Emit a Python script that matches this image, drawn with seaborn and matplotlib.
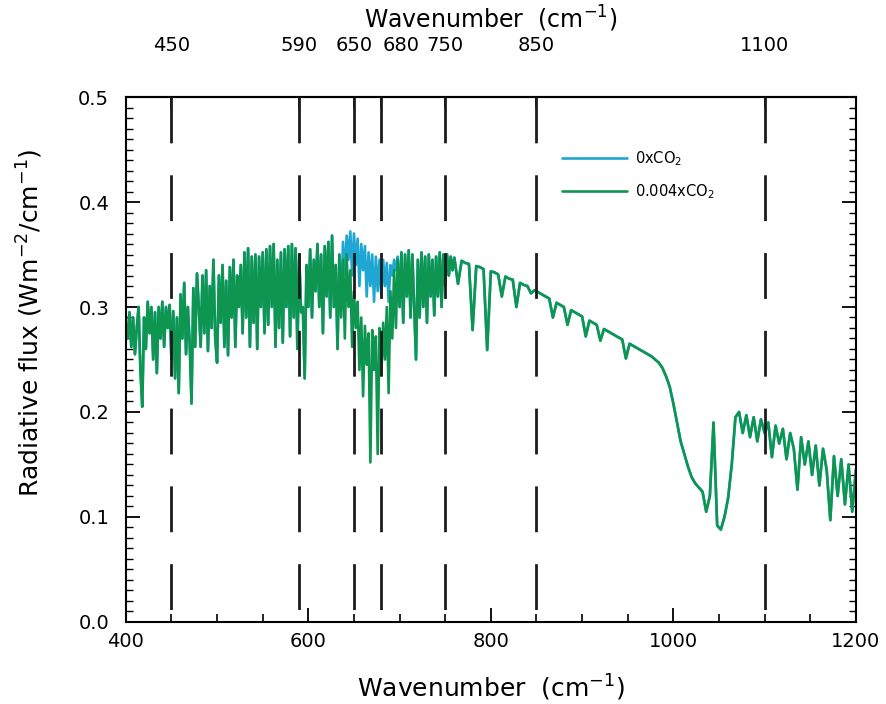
import numpy as np
import pandas as pd
import matplotlib
matplotlib.use("Agg")
import matplotlib.pyplot as plt
from matplotlib.ticker import MultipleLocator, NullLocator, FormatStrFormatter
import seaborn as sns

# Spectral grid (cm^-1): 2 cm^-1 spacing over the line-rich region, 4 cm^-1 beyond
wn_fine = np.arange(400, 760, 2)
wn_coarse = np.arange(760, 1201, 4)

# Outgoing radiative flux for the 0.004xCO2 case, 400-758 cm^-1
flux_fine = [
    0.285, 0.270, 0.295, 0.262, 0.290, 0.255, 0.280, 0.300, 0.240, 0.205,   # 400-418
    0.290, 0.260, 0.305, 0.275, 0.300, 0.250, 0.295, 0.237, 0.300, 0.270,   # 420-438
    0.305, 0.262, 0.300, 0.280, 0.302, 0.250, 0.296, 0.232, 0.290, 0.218,   # 440-458
    0.312, 0.270, 0.323, 0.255, 0.300, 0.265, 0.208, 0.318, 0.262, 0.332,   # 460-478
    0.300, 0.262, 0.330, 0.275, 0.335, 0.258, 0.320, 0.280, 0.345, 0.270,   # 480-498
    0.247, 0.330, 0.285, 0.340, 0.262, 0.325, 0.254, 0.338, 0.290, 0.345,   # 500-518
    0.262, 0.330, 0.300, 0.340, 0.275, 0.352, 0.290, 0.356, 0.262, 0.348,   # 520-538
    0.285, 0.350, 0.260, 0.348, 0.300, 0.352, 0.275, 0.355, 0.283, 0.358,   # 540-558
    0.300, 0.360, 0.262, 0.345, 0.280, 0.352, 0.266, 0.355, 0.300, 0.358,   # 560-578
    0.272, 0.360, 0.290, 0.356, 0.260, 0.350, 0.295, 0.300, 0.232, 0.340,   # 580-598
    0.300, 0.355, 0.290, 0.345, 0.315, 0.360, 0.300, 0.350, 0.275, 0.358,   # 600-618
    0.310, 0.362, 0.290, 0.368, 0.300, 0.340, 0.260, 0.350, 0.290, 0.345,   # 620-638
    0.270, 0.350, 0.300, 0.335, 0.262, 0.315, 0.280, 0.305, 0.240, 0.290,   # 640-658
    0.215, 0.282, 0.245, 0.275, 0.152, 0.278, 0.240, 0.272, 0.160, 0.280,   # 660-678
    0.235, 0.285, 0.250, 0.300, 0.218, 0.315, 0.270, 0.335, 0.280, 0.345,   # 680-698
    0.300, 0.352, 0.285, 0.350, 0.310, 0.354, 0.290, 0.350, 0.300, 0.250,   # 700-718
    0.345, 0.290, 0.352, 0.300, 0.348, 0.285, 0.350, 0.310, 0.345, 0.292,   # 720-738
    0.348, 0.310, 0.352, 0.300, 0.350, 0.320, 0.350, 0.330, 0.348, 0.335,   # 740-758
]

# Outgoing radiative flux for the 0.004xCO2 case, 760-1200 cm^-1
flux_coarse = [
    0.347, 0.322, 0.344, 0.342, 0.341, 0.278, 0.339, 0.338, 0.336, 0.259,   # 760-796
    0.334, 0.333, 0.331, 0.310, 0.329, 0.327, 0.326, 0.300, 0.323, 0.321,   # 800-836
    0.320, 0.313, 0.316, 0.314, 0.312, 0.310, 0.308, 0.290, 0.304, 0.302,   # 840-876
    0.300, 0.283, 0.297, 0.295, 0.293, 0.291, 0.272, 0.287, 0.285, 0.283,   # 880-916
    0.268, 0.279, 0.277, 0.275, 0.273, 0.271, 0.269, 0.251, 0.265, 0.263,   # 920-956
    0.261, 0.259, 0.257, 0.255, 0.253, 0.250, 0.247, 0.242, 0.234, 0.224,   # 960-996
    0.208, 0.190, 0.172, 0.160, 0.148, 0.138, 0.132, 0.128, 0.124, 0.105,   # 1000-1036
    0.120, 0.190, 0.092, 0.088, 0.100, 0.118, 0.150, 0.195, 0.200, 0.180,   # 1040-1076
    0.197, 0.176, 0.195, 0.172, 0.193, 0.180, 0.190, 0.157, 0.187, 0.170,   # 1080-1116
    0.184, 0.155, 0.180, 0.165, 0.126, 0.176, 0.150, 0.172, 0.140, 0.168,   # 1120-1156
    0.130, 0.165, 0.145, 0.097, 0.158, 0.120, 0.155, 0.112, 0.150, 0.105,   # 1160-1196
    0.145,                                                                  # 1200
]

# Without CO2 the flux differs only inside the 15 micron band (636-698 cm^-1)
band_wn = np.arange(636, 700, 2)
flux_no_co2_band = [
    0.300, 0.362, 0.330, 0.368, 0.345, 0.372, 0.330, 0.370, 0.340, 0.365,
    0.320, 0.360, 0.335, 0.358, 0.310, 0.352, 0.320, 0.350, 0.305, 0.348,
    0.315, 0.345, 0.310, 0.345, 0.320, 0.342, 0.305, 0.340, 0.330, 0.345,
    0.335, 0.348,
]

# Band boundaries marked on the upper axis
band_edges = [450, 590, 650, 680, 750, 850, 1100]

labels = ["0xCO$_2$", "0.004xCO$_2$"]
colors = ["#1fa6d2", "#0e9650"]

wavenumber = np.concatenate([wn_fine, wn_coarse])
flux_co2 = np.array(flux_fine + flux_coarse, dtype=float)
flux_no_co2 = flux_co2.copy()
flux_no_co2[np.searchsorted(wavenumber, band_wn)] = flux_no_co2_band

df = pd.concat([
    pd.DataFrame({"wn": wavenumber, "flux": flux_no_co2, "case": labels[0]}),
    pd.DataFrame({"wn": wavenumber, "flux": flux_co2, "case": labels[1]}),
], ignore_index=True)

sns.set_theme(style="ticks")
plt.rcParams["font.family"] = ["DejaVu Sans"]
plt.rcParams["mathtext.default"] = "regular"
for key in ("text.color", "axes.labelcolor", "xtick.color", "ytick.color",
            "axes.edgecolor"):
    plt.rcParams[key] = "black"

fig = plt.figure(figsize=(8.86, 7.04), dpi=100)
ax = fig.add_axes([0.142, 0.1165, 0.824, 0.7457])

sns.lineplot(data=df, x="wn", y="flux", hue="case", hue_order=labels,
             palette=colors, estimator=None, sort=False, lw=1.9, ax=ax)

for v in band_edges:
    ax.plot([v, v], [0.5, 0.0], color="#1c1c1c", lw=2,
            linestyle=(0, (16.5, 11.5)), zorder=5)

ax.set_xlim(400, 1200)
ax.set_ylim(0.0, 0.5)
ax.xaxis.set_major_locator(MultipleLocator(200))
ax.xaxis.set_minor_locator(MultipleLocator(50))
ax.yaxis.set_major_locator(MultipleLocator(0.1))
ax.yaxis.set_minor_locator(MultipleLocator(0.01))
ax.yaxis.set_major_formatter(FormatStrFormatter("%.1f"))

for s in ax.spines.values():
    s.set_linewidth(1.5)
    s.set_color("black")

ax.tick_params(axis="both", which="both", direction="in")
ax.tick_params(axis="x", which="major", length=10, width=1.3, top=False,
               labelsize=14, pad=7)
ax.tick_params(axis="x", which="minor", length=6, width=1.2, top=False)
ax.tick_params(axis="y", which="major", length=10, width=1.3, right=True,
               labelsize=14, pad=12)
ax.tick_params(axis="y", which="minor", length=5, width=1.0, right=True)

ax.set_xlabel("Wavenumber  (cm$^{-1}$)", fontsize=18, labelpad=16)
ax.set_ylabel("Radiative flux (Wm$^{-2}$/cm$^{-1}$)", fontsize=18)
ax.yaxis.set_label_coords(-0.111, 0.57)

# Upper axis: band edges; the 680 label is nudged right so it clears 650
top = ax.secondary_xaxis("top")
top.set_xticks(band_edges)
top.set_xticklabels([str(v) if v != 680 else "" for v in band_edges])
top.xaxis.set_minor_locator(NullLocator())
top.tick_params(direction="in", length=8, width=1.3, labelsize=14, pad=30)
top.spines["top"].set_linewidth(1.5)
top.set_xlabel("Wavenumber  (cm$^{-1}$)", fontsize=17, labelpad=6)
ax.annotate("680", xy=(680, 1.0), xycoords=("data", "axes fraction"),
            xytext=(14, 30), textcoords="offset points",
            ha="center", va="bottom", fontsize=14)

handles, _ = ax.get_legend_handles_labels()
ax.legend(handles=handles, labels=labels, loc="upper left",
          bbox_to_anchor=(0.598, 0.9), frameon=False, fontsize=10.5,
          handlelength=4.4, handletextpad=0.6, labelspacing=0.95,
          borderaxespad=0, borderpad=0)

fig.savefig("out.png", dpi=100)
